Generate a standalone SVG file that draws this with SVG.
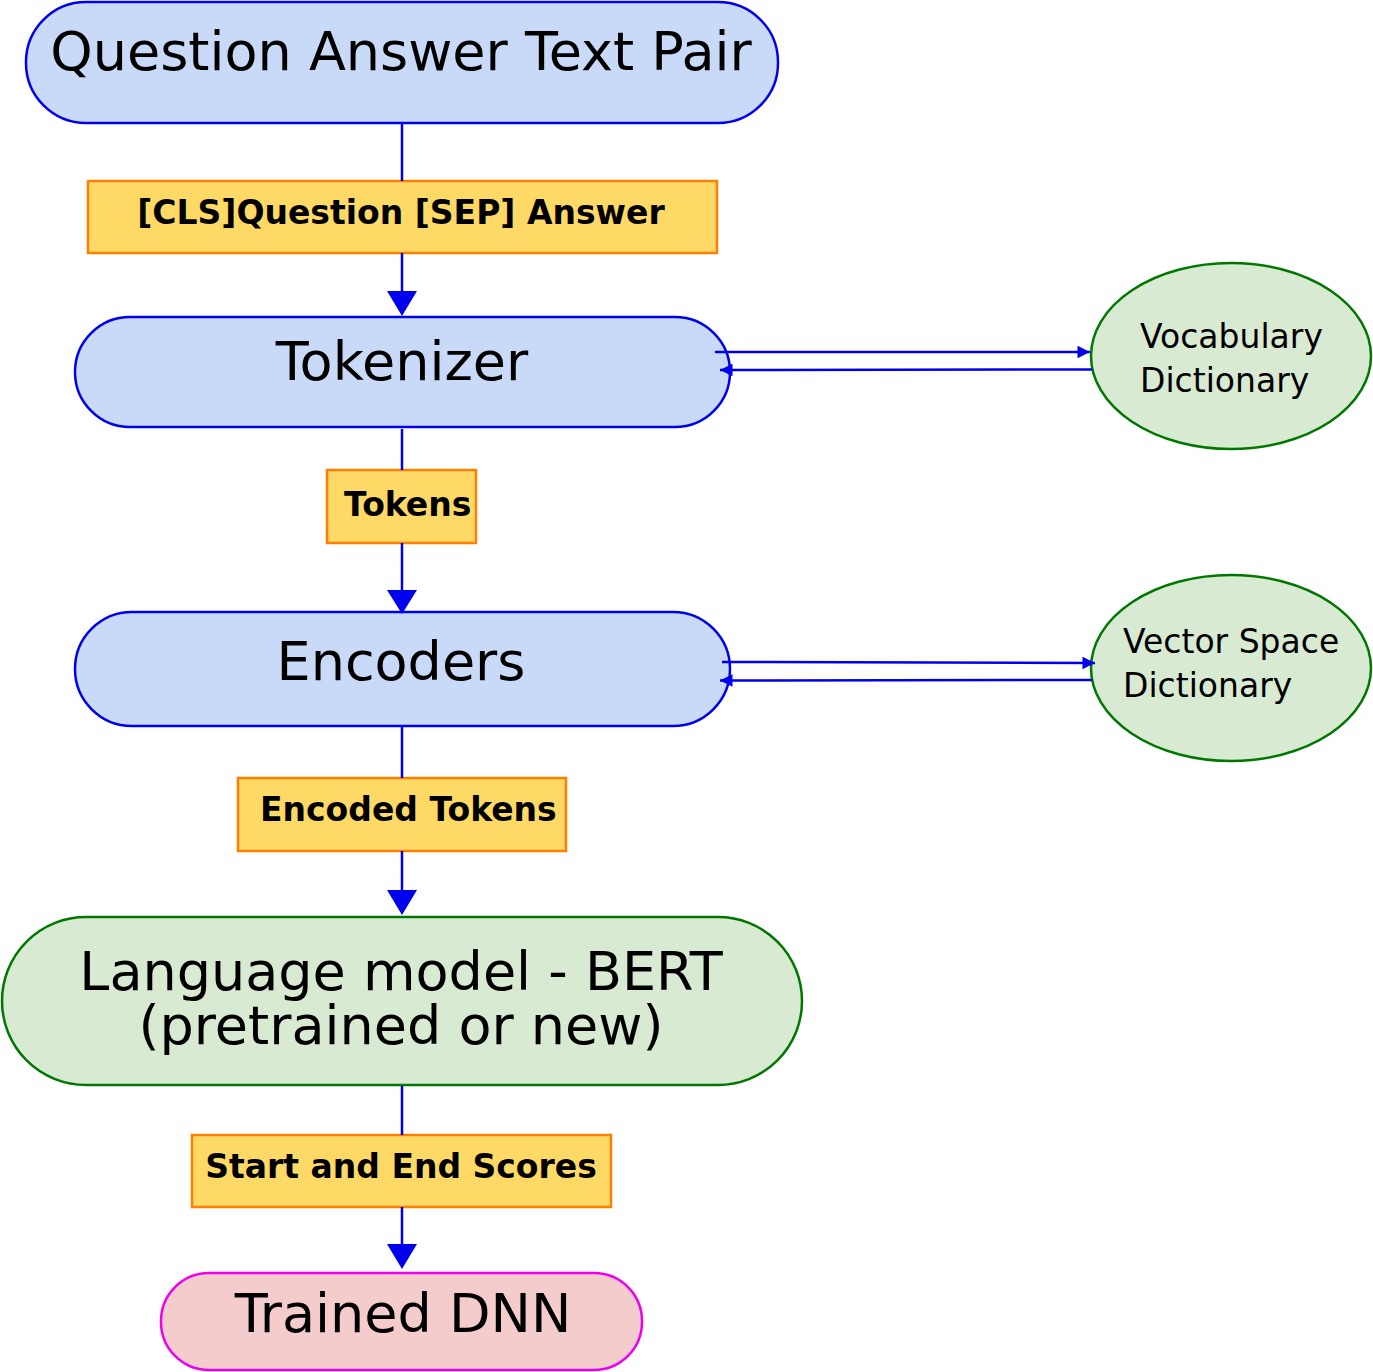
<svg xmlns="http://www.w3.org/2000/svg" width="1373" height="1372" viewBox="0 0 1373 1372">
<style>
.bn{fill:#c9daf8;stroke:#0000ee;stroke-width:2.5}
.gn{fill:#d9ead3;stroke:#007700;stroke-width:2.5}
.pn{fill:#f4cccc;stroke:#ee00ee;stroke-width:2.5}
.lb{fill:#ffd966;stroke:#ff7f00;stroke-width:2.5}
.t{font-family:"DejaVu Sans",sans-serif;font-size:54px;fill:#000;text-anchor:middle}
.l{font-family:"DejaVu Sans",sans-serif;font-size:33px;font-weight:bold;fill:#000}
.e{font-family:"DejaVu Sans",sans-serif;font-size:33px;fill:#000}
.c{stroke:#0000ee;stroke-width:2.5;fill:none}
.ah{fill:#0000ee}
</style>
<defs>
<marker id="sm" viewBox="0 0 10 10" refX="10" refY="5" markerWidth="5.5" markerHeight="5" orient="auto" markerUnits="strokeWidth">
<path d="M0,0 L10,5 L0,10 z" fill="#0000ee"/>
</marker>
</defs>
<rect width="1373" height="1372" fill="#fff"/>
<g id="qa">
<rect class="bn" x="26" y="2" width="752" height="121" rx="60"/>
<text class="t" x="401" y="70">Question Answer Text Pair</text>
</g>
<g id="lbl-cls">
<rect class="lb" x="88" y="181" width="629" height="72"/>
<text class="l" x="401" y="224" text-anchor="middle">[CLS]Question [SEP] Answer</text>
</g>
<g id="tokenizer">
<rect class="bn" x="75" y="317" width="655" height="110" rx="55"/>
<text class="t" x="402" y="380">Tokenizer</text>
</g>
<g id="vocab">
<ellipse class="gn" cx="1231" cy="356" rx="140" ry="93"/>
<text class="e" x="1140" y="348">Vocabulary</text>
<text class="e" x="1140" y="392">Dictionary</text>
</g>
<g id="lbl-tokens">
<rect class="lb" x="327" y="470" width="149" height="73"/>
<text class="l" x="344" y="516">Tokens</text>
</g>
<g id="encoders">
<rect class="bn" x="75" y="612" width="655" height="114" rx="57"/>
<text class="t" x="401" y="680">Encoders</text>
</g>
<g id="vector">
<ellipse class="gn" cx="1231" cy="668" rx="140" ry="93"/>
<text class="e" x="1123" y="653">Vector Space</text>
<text class="e" x="1123" y="697">Dictionary</text>
</g>
<g id="lbl-encoded">
<rect class="lb" x="238" y="778" width="328" height="73"/>
<text class="l" x="260" y="821">Encoded Tokens</text>
</g>
<g id="bert">
<rect class="gn" x="2" y="917" width="800" height="168" rx="84"/>
<text class="t" x="401" y="990">Language model - BERT</text>
<text class="t" x="401" y="1044">(pretrained or new)</text>
</g>
<g id="lbl-scores">
<rect class="lb" x="192" y="1135" width="419" height="72"/>
<text class="l" x="401" y="1178" text-anchor="middle">Start and End Scores</text>
</g>
<g id="dnn">
<rect class="pn" x="161" y="1273" width="481" height="97" rx="48"/>
<text class="t" x="403" y="1332">Trained DNN</text>
</g>
<g id="connectors">
<line class="c" x1="402" y1="123" x2="402" y2="181"/>
<line class="c" x1="402" y1="253" x2="402" y2="295"/>
<path class="ah" d="M387,291 L417,291 L402,316 z"/>
<line class="c" x1="402" y1="429" x2="402" y2="470"/>
<line class="c" x1="402" y1="543" x2="402" y2="594"/>
<path class="ah" d="M387,590 L417,590 L402,614 z"/>
<line class="c" x1="402" y1="727" x2="402" y2="778"/>
<line class="c" x1="402" y1="851" x2="402" y2="894"/>
<path class="ah" d="M387,890 L417,890 L402,915 z"/>
<line class="c" x1="402" y1="1086" x2="402" y2="1135"/>
<line class="c" x1="402" y1="1207" x2="402" y2="1248"/>
<path class="ah" d="M387,1244 L417,1244 L402,1269 z"/>
<line class="c" x1="715" y1="352" x2="1090" y2="352" marker-end="url(#sm)"/>
<line class="c" x1="1092" y1="369.5" x2="720" y2="370" marker-end="url(#sm)"/>
<line class="c" x1="722" y1="662" x2="1095" y2="663" marker-end="url(#sm)"/>
<line class="c" x1="1092" y1="680" x2="720" y2="680.5" marker-end="url(#sm)"/>
</g>
</svg>
